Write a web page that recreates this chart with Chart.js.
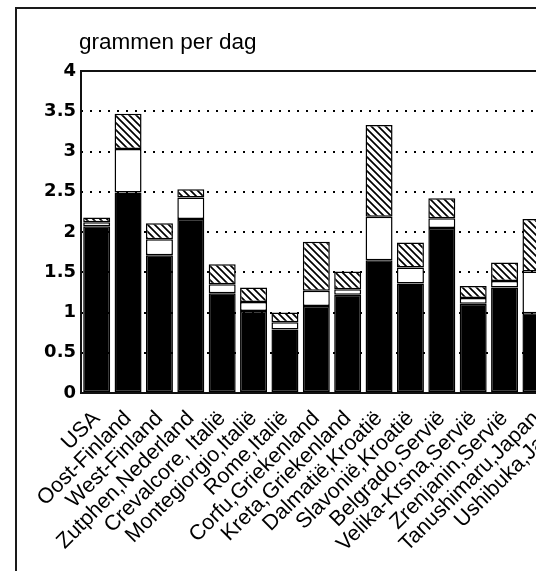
<!DOCTYPE html>
<html>
<head>
<meta charset="utf-8">
<script src="https://cdn.jsdelivr.net/npm/chart.js@4.4.0/dist/chart.umd.min.js"></script>
<style>
  html, body { margin: 0; padding: 0; background: #fff; overflow: hidden; }
  #frame {
    position: absolute; left: 15px; top: 7px; width: 700px; height: 700px;
    border-left: 2px solid #1a1a1a; border-top: 2px solid #1a1a1a;
  }
  #chart { position: absolute; left: 0; top: 0; }
</style>
</head>
<body>
<div id="frame"></div>
<canvas id="chart" width="600" height="571"></canvas>
<script>
// categories (the last one runs off the right edge of the picture)
const categories = [
  "USA", "Oost-Finland", "West-Finland", "Zutphen,Nederland",
  "Crevalcore, Italië", "Montegiorgio,Italië", "Rome,Italië",
  "Corfu,Griekenland", "Kreta,Griekenland", "Dalmatië,Kroatië",
  "Slavonië,Kroatië", "Belgrado,Servië", "Velika-Krsna,Servië",
  "Zrenjanin,Servië", "Tanushimaru,Japan", "Ushibuka,Japan"
];

// stacked parts, bottom to top (grams per day)
const blackPart = [2.07, 2.49, 1.71, 2.16, 1.24, 1.02, 0.79, 1.08, 1.22, 1.65, 1.36, 2.05, 1.11, 1.31, 0.99, null];
const whitePart = [0.05, 0.54, 0.20, 0.27, 0.11, 0.11, 0.09, 0.19, 0.07, 0.54, 0.20, 0.12, 0.07, 0.08, 0.52, null];
const hatchPart = [0.06, 0.44, 0.20, 0.10, 0.25, 0.18, 0.12, 0.61, 0.22, 1.14, 0.31, 0.25, 0.15, 0.23, 0.65, null];

const yTicks = [0, 0.5, 1, 1.5, 2, 2.5, 3, 3.5, 4];
const unitLabel = "grammen per dag";

function hatchPattern() {
  const size = 7;
  const c = document.createElement("canvas");
  c.width = size; c.height = size;
  const g = c.getContext("2d");
  g.fillStyle = "#fff";
  g.fillRect(0, 0, size, size);
  g.strokeStyle = "#000";
  g.lineWidth = 1.7;
  g.beginPath();
  g.moveTo(-1, -1); g.lineTo(size + 1, size + 1);
  g.moveTo(-1, size - 1); g.lineTo(1, size + 1);
  g.moveTo(size - 1, -1); g.lineTo(size + 1, 1);
  g.stroke();
  return g.createPattern(c, "repeat");
}

// unit text above the y axis
const unitTitle = {
  id: "unitTitle",
  afterDraw(chart) {
    const { ctx, chartArea } = chart;
    ctx.save();
    ctx.font = '22.5px "Liberation Sans", Arial, sans-serif';
    ctx.fillStyle = "#000";
    ctx.textBaseline = "alphabetic";
    ctx.fillText(unitLabel, chartArea.left - 2, chartArea.top - 22);
    ctx.restore();
  }
};

// solid box round the plot area
const plotFrame = {
  id: "plotFrame",
  afterDatasetsDraw(chart) {
    const { ctx, chartArea } = chart;
    ctx.save();
    ctx.strokeStyle = "#111";
    ctx.lineWidth = 2;
    ctx.strokeRect(chartArea.left, chartArea.top, chartArea.right - chartArea.left, chartArea.bottom - chartArea.top);
    ctx.restore();
  }
};

Chart.defaults.color = "#000";
Chart.defaults.font.family = '"Liberation Sans", Arial, sans-serif';

const common = {
  borderColor: "#000",
  borderWidth: 1.5,
  borderSkipped: false,
  barPercentage: 0.86,
  categoryPercentage: 1,
  stack: "s"
};

new Chart(document.getElementById("chart"), {
  type: "bar",
  data: {
    labels: categories,
    datasets: [
      { ...common, label: "zwart", data: blackPart, backgroundColor: "#000" },
      { ...common, label: "wit", data: whitePart, backgroundColor: "#fff" },
      { ...common, label: "gearceerd", data: hatchPart, backgroundColor: hatchPattern() }
    ]
  },
  options: {
    responsive: false,
    animation: false,
    layout: { padding: { top: 71, left: 16, right: 17, bottom: 0 } },
    plugins: {
      legend: { display: false },
      tooltip: { enabled: false }
    },
    scales: {
      x: {
        stacked: true,
        grid: { display: false },
        border: { display: false },
        ticks: {
          autoSkip: false,
          minRotation: 45,
          maxRotation: 45,
          padding: 5,
          font: { size: 21.5 }
        },
        afterFit: axis => { axis.height = 178; }
      },
      y: {
        stacked: true,
        min: 0,
        max: 4,
        afterBuildTicks: axis => { axis.ticks = yTicks.map(v => ({ value: v })); },
        grid: { color: "#000", lineWidth: 2, drawTicks: false },
        border: { display: false, dash: [2, 7] },
        ticks: {
          padding: 5,
          callback: v => String(v),
          font: { family: '"DejaVu Sans", sans-serif', size: 18, weight: "bold" }
        },
        afterFit: axis => { axis.width = 65; }
      }
    }
  },
  plugins: [unitTitle, plotFrame]
});
</script>
</body>
</html>
